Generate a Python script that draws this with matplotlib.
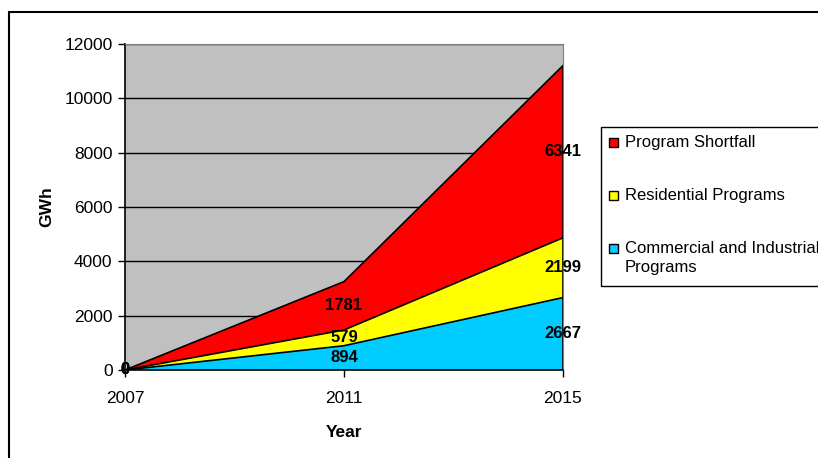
import matplotlib.pyplot as plt
from matplotlib.patches import Rectangle

plt.rcParams['font.family'] = ['Liberation Sans', 'DejaVu Sans']

years = [2007, 2011, 2015]
commercial = [0, 894, 2667]
residential = [0, 579, 2199]
shortfall = [0, 1781, 6341]
series_names = ["Commercial and Industrial\nPrograms", "Residential Programs", "Program Shortfall"]
series_colors = ["#00CCFF", "#FFFF00", "#FF0000"]
y_ticks = [0, 2000, 4000, 6000, 8000, 10000, 12000]

W, H = 818, 458
fig = plt.figure(figsize=(W / 100, H / 100), dpi=100)

# outer chart frame (runs off the right and bottom edges)
fig.patches.append(Rectangle((9 / W, -0.1), 1.2, 1.1 - 12 / H, transform=fig.transFigure,
                             fill=False, edgecolor="black", linewidth=1.5))

ax = fig.add_axes([125 / W, 1 - 370 / H, (563 - 125) / W, (370 - 44) / H])
ax.set_facecolor("#C0C0C0")

series = [commercial, residential, shortfall]
base = [0] * len(years)
for vals, color in zip(series, series_colors):
    top = [b + v for b, v in zip(base, vals)]
    ax.fill_between(years, base, top, facecolor=color, edgecolor="none", zorder=2)
    ax.plot(years, top, color="black", linewidth=1.2, zorder=3)
    for x, b, v in zip(years, base, vals):
        ax.text(x, b + v / 2, str(v), ha="center", va="center", fontsize=12,
                fontweight="bold", zorder=5, clip_on=False)
    base = top

# right edge of the stacked area
ax.plot([years[-1], years[-1]], [0, base[-1]], color="black", linewidth=1.2, zorder=3)

ax.set_xlim(years[0], years[-1])
ax.set_ylim(0, 12000)
ax.set_xticks(years)
ax.set_yticks(y_ticks)
ax.tick_params(axis="both", labelsize=12.5, length=5, width=1, direction="out", pad=4)
ax.tick_params(axis="x", pad=10)
ax.yaxis.grid(True, color="black", linewidth=1, zorder=1)
ax.set_axisbelow(True)

ax.spines["left"].set_color("black")
ax.spines["bottom"].set_color("black")
ax.spines["left"].set_linewidth(1.2)
ax.spines["bottom"].set_linewidth(1.2)
ax.spines["top"].set_color("#808080")
ax.spines["right"].set_color("#808080")

ax.set_xlabel("Year", fontsize=12.5, fontweight="bold", labelpad=14)
ax.set_ylabel("GWh", fontsize=12.5, fontweight="bold", labelpad=7)

# legend drawn by hand, box extends past the right edge
fig.patches.append(Rectangle((601 / W, 1 - 286 / H), 0.4, (286 - 127) / H, transform=fig.transFigure,
                             facecolor="white", edgecolor="black", linewidth=1))
legend_rows = [(143, 2), (196, 1), (249, 0)]
for y_px, idx in legend_rows:
    fig.patches.append(Rectangle((609 / W, 1 - (y_px + 4) / H), 9 / W, 9 / H, transform=fig.transFigure,
                                 facecolor=series_colors[idx], edgecolor="black", linewidth=1))
    fig.text(625 / W, 1 - (y_px - 8) / H, series_names[idx], fontsize=12, va="top", ha="left",
             linespacing=1.3)

fig.savefig("out.png", dpi=100)
